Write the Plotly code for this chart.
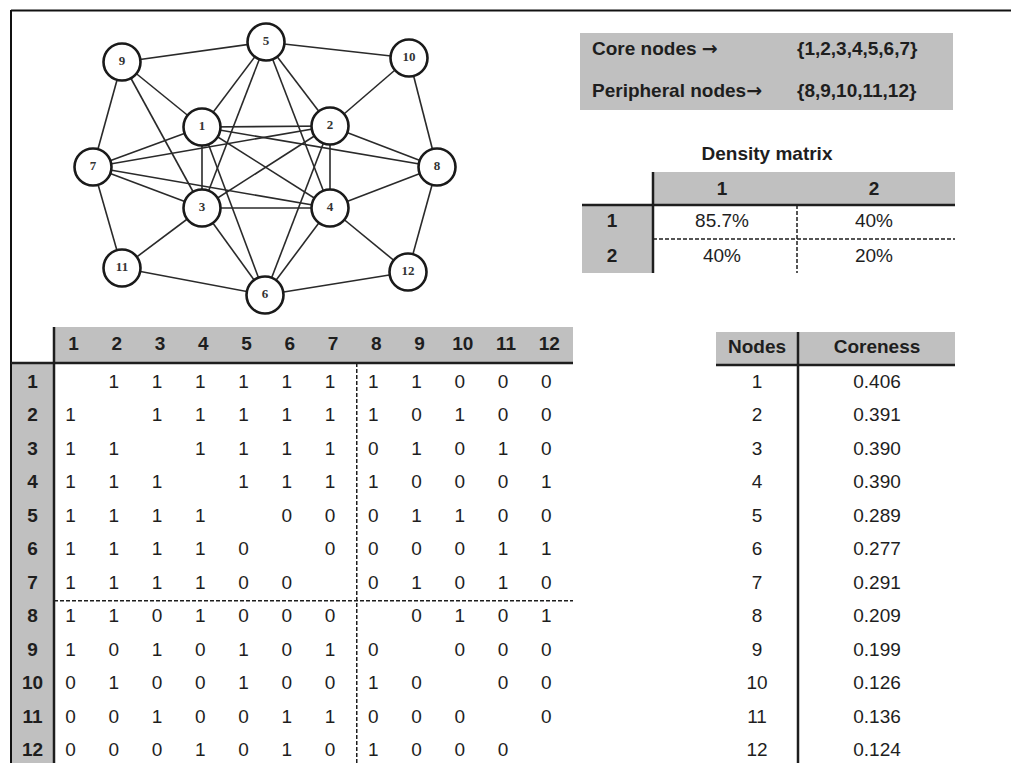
import plotly.graph_objects as go

# ---------------- data ----------------
node_ids = list(range(1, 13))
adjacency = [
    [None, 1, 1, 1, 1, 1, 1, 1, 1, 0, 0, 0],
    [1, None, 1, 1, 1, 1, 1, 1, 0, 1, 0, 0],
    [1, 1, None, 1, 1, 1, 1, 0, 1, 0, 1, 0],
    [1, 1, 1, None, 1, 1, 1, 1, 0, 0, 0, 1],
    [1, 1, 1, 1, None, 0, 0, 0, 1, 1, 0, 0],
    [1, 1, 1, 1, 0, None, 0, 0, 0, 0, 1, 1],
    [1, 1, 1, 1, 0, 0, None, 0, 1, 0, 1, 0],
    [1, 1, 0, 1, 0, 0, 0, None, 0, 1, 0, 1],
    [1, 0, 1, 0, 1, 0, 1, 0, None, 0, 0, 0],
    [0, 1, 0, 0, 1, 0, 0, 1, 0, None, 0, 0],
    [0, 0, 1, 0, 0, 1, 1, 0, 0, 0, None, 0],
    [0, 0, 0, 1, 0, 1, 0, 1, 0, 0, 0, None],
]
coreness = [0.406, 0.391, 0.390, 0.390, 0.289, 0.277, 0.291, 0.209, 0.199, 0.126, 0.136, 0.124]
core_nodes = [1, 2, 3, 4, 5, 6, 7]
peripheral_nodes = [8, 9, 10, 11, 12]
density_blocks = ["1", "2"]
density_pct = [[85.7, 40], [40, 20]]

# ---------------- layout constants (pixel canvas) ----------------
W, H = 1011, 763
GREY = "#c0c0c0"
INK = "#1e1e1e"
FONT = "Liberation Sans"
FS = 19
ARROW = '<span style="font-family:DejaVu Sans">→</span>'

# network layout (node drawing positions)
node_x = [202, 330, 202, 330, 266, 265, 93, 437, 122, 409, 122, 408]
node_y = [127, 126, 208, 208, 42, 295, 167, 167, 62, 58, 268, 272]

fig = go.Figure()
shapes = []


def rect(x0, y0, x1, y1, color=GREY):
    shapes.append(dict(type="rect", xref="x", yref="y", x0=x0, y0=y0, x1=x1, y1=y1,
                       fillcolor=color, line=dict(width=0), layer="below"))


def line(x0, y0, x1, y1, width=2.5, dash=None, color=INK):
    ln = dict(color=color, width=width)
    if dash:
        ln["dash"] = dash
    shapes.append(dict(type="line", xref="x", yref="y", x0=x0, y0=y0, x1=x1, y1=y1,
                       line=ln, layer="above"))


def text_trace(xs, ys, texts, bold=False, size=FS, pos="middle center", family=FONT, color=INK):
    fig.add_trace(go.Scatter(
        x=xs, y=ys, text=texts, mode="text", textposition=pos, cliponaxis=False,
        hoverinfo="skip", showlegend=False,
        textfont=dict(family=family, size=size, color=color,
                      weight="bold" if bold else "normal")))


# ---------------- frame ----------------
line(11, 10.5, W, 10.5, width=2, color="#111")
line(11, 10, 11, H, width=2, color="#111")

# ---------------- network ----------------
ex, ey = [], []
n = len(node_ids)
for i in range(n):
    for j in range(i + 1, n):
        if adjacency[i][j] == 1:
            ex += [node_x[i], node_x[j], None]
            ey += [node_y[i], node_y[j], None]
fig.add_trace(go.Scatter(x=ex, y=ey, mode="lines", line=dict(color="#2a2a2a", width=1.6),
                         hoverinfo="skip", showlegend=False))
fig.add_trace(go.Scatter(
    x=node_x, y=node_y, mode="markers+text", text=[str(k) for k in node_ids],
    textposition="middle center", cliponaxis=False, hoverinfo="skip", showlegend=False,
    marker=dict(size=37, color="white", line=dict(color="#1a1a1a", width=2.6)),
    textfont=dict(family="Liberation Serif", size=13, color="#333", weight="bold")))

# ---------------- core / periphery box ----------------
rect(580, 33, 953, 110)
text_trace([592, 592], [50, 92], ["Core nodes " + ARROW, "Peripheral nodes" + ARROW],
           bold=True, pos="middle right")
text_trace([797, 797], [50, 92],
           ["{" + ",".join(str(v) for v in core_nodes) + "}",
            "{" + ",".join(str(v) for v in peripheral_nodes) + "}"],
           bold=True, pos="middle right")

# ---------------- density matrix ----------------
D_X0, D_HX, D_X1 = 582, 653, 955
D_Y0, D_HY, D_Y1 = 172, 205, 273
d_col_x = [722, 874]
d_row_y = [222, 257]
text_trace([767], [155], ["Density matrix"], bold=True)
rect(D_HX, D_Y0, D_X1, D_HY)
rect(D_X0, D_HY, D_HX, D_Y1)
line(D_X0, D_HY, D_X1, D_HY)
line(D_HX, D_Y0, D_HX, D_Y1)
line(797, D_HY, 797, D_Y1, width=1.5, dash="4px,2px")
line(D_HX, 239, D_X1, 239, width=1.5, dash="4px,2px")
text_trace(d_col_x, [190, 190], density_blocks, bold=True)
text_trace([612, 612], d_row_y, density_blocks, bold=True)
dx, dy, dt = [], [], []
for r in range(2):
    for c in range(2):
        dx.append(d_col_x[c]); dy.append(d_row_y[r]); dt.append(f"{density_pct[r][c]:g}%")
text_trace(dx, dy, dt)

# ---------------- adjacency matrix table ----------------
M_L, M_HX, M_R = 11, 54, 573
M_Y0, M_HY = 327, 363
cell_w = (M_R - M_HX) / n
col_c = [M_HX + cell_w * (j + 0.5) for j in range(n)]
row_y = [383 + 33.5 * i for i in range(n)]
rect(M_HX, M_Y0, M_R, M_HY)
rect(M_L, M_HY, M_HX, H)
line(M_L, M_HY, M_R, M_HY)
line(M_HX, M_Y0, M_HX, H)
split = len(core_nodes)
line(M_HX + cell_w * split, M_HY, M_HX + cell_w * split, H, width=1.5, dash="4px,2px")
split_y = (row_y[split - 1] + row_y[split]) / 2
line(M_HX, split_y, M_R, split_y, width=1.5, dash="4px,2px")
text_trace([c - 2 for c in col_c], [345] * n, [str(k) for k in node_ids], bold=True)
text_trace([32.5] * n, row_y, [str(k) for k in node_ids], bold=True)
mx, my, mt = [], [], []
for i in range(n):
    for j in range(n):
        v = adjacency[i][j]
        if v is None:
            continue
        mx.append(col_c[j] - 5); my.append(row_y[i]); mt.append(str(v))
text_trace(mx, my, mt)

# ---------------- coreness table ----------------
C_X0, C_VX, C_X1 = 716, 798, 955
rect(C_X0, 332, C_X1, 364)
line(C_X0, 365, C_X1, 365)
line(C_VX, 332, C_VX, H)
text_trace([757, 877], [348, 348], ["Nodes", "Coreness"], bold=True)
text_trace([757] * n, row_y, [str(k) for k in node_ids])
text_trace([877] * n, row_y, [f"{v:.3f}" for v in coreness])

fig.update_layout(
    width=W, height=H, margin=dict(l=0, r=0, t=0, b=0),
    paper_bgcolor="white", plot_bgcolor="white", showlegend=False,
    xaxis=dict(range=[0, W], visible=False, fixedrange=True),
    yaxis=dict(range=[H, 0], visible=False, fixedrange=True),
    shapes=shapes,
)
fig.write_html("out.html", config={"displayModeBar": False},
               post_script="document.body.style.margin='0';")
